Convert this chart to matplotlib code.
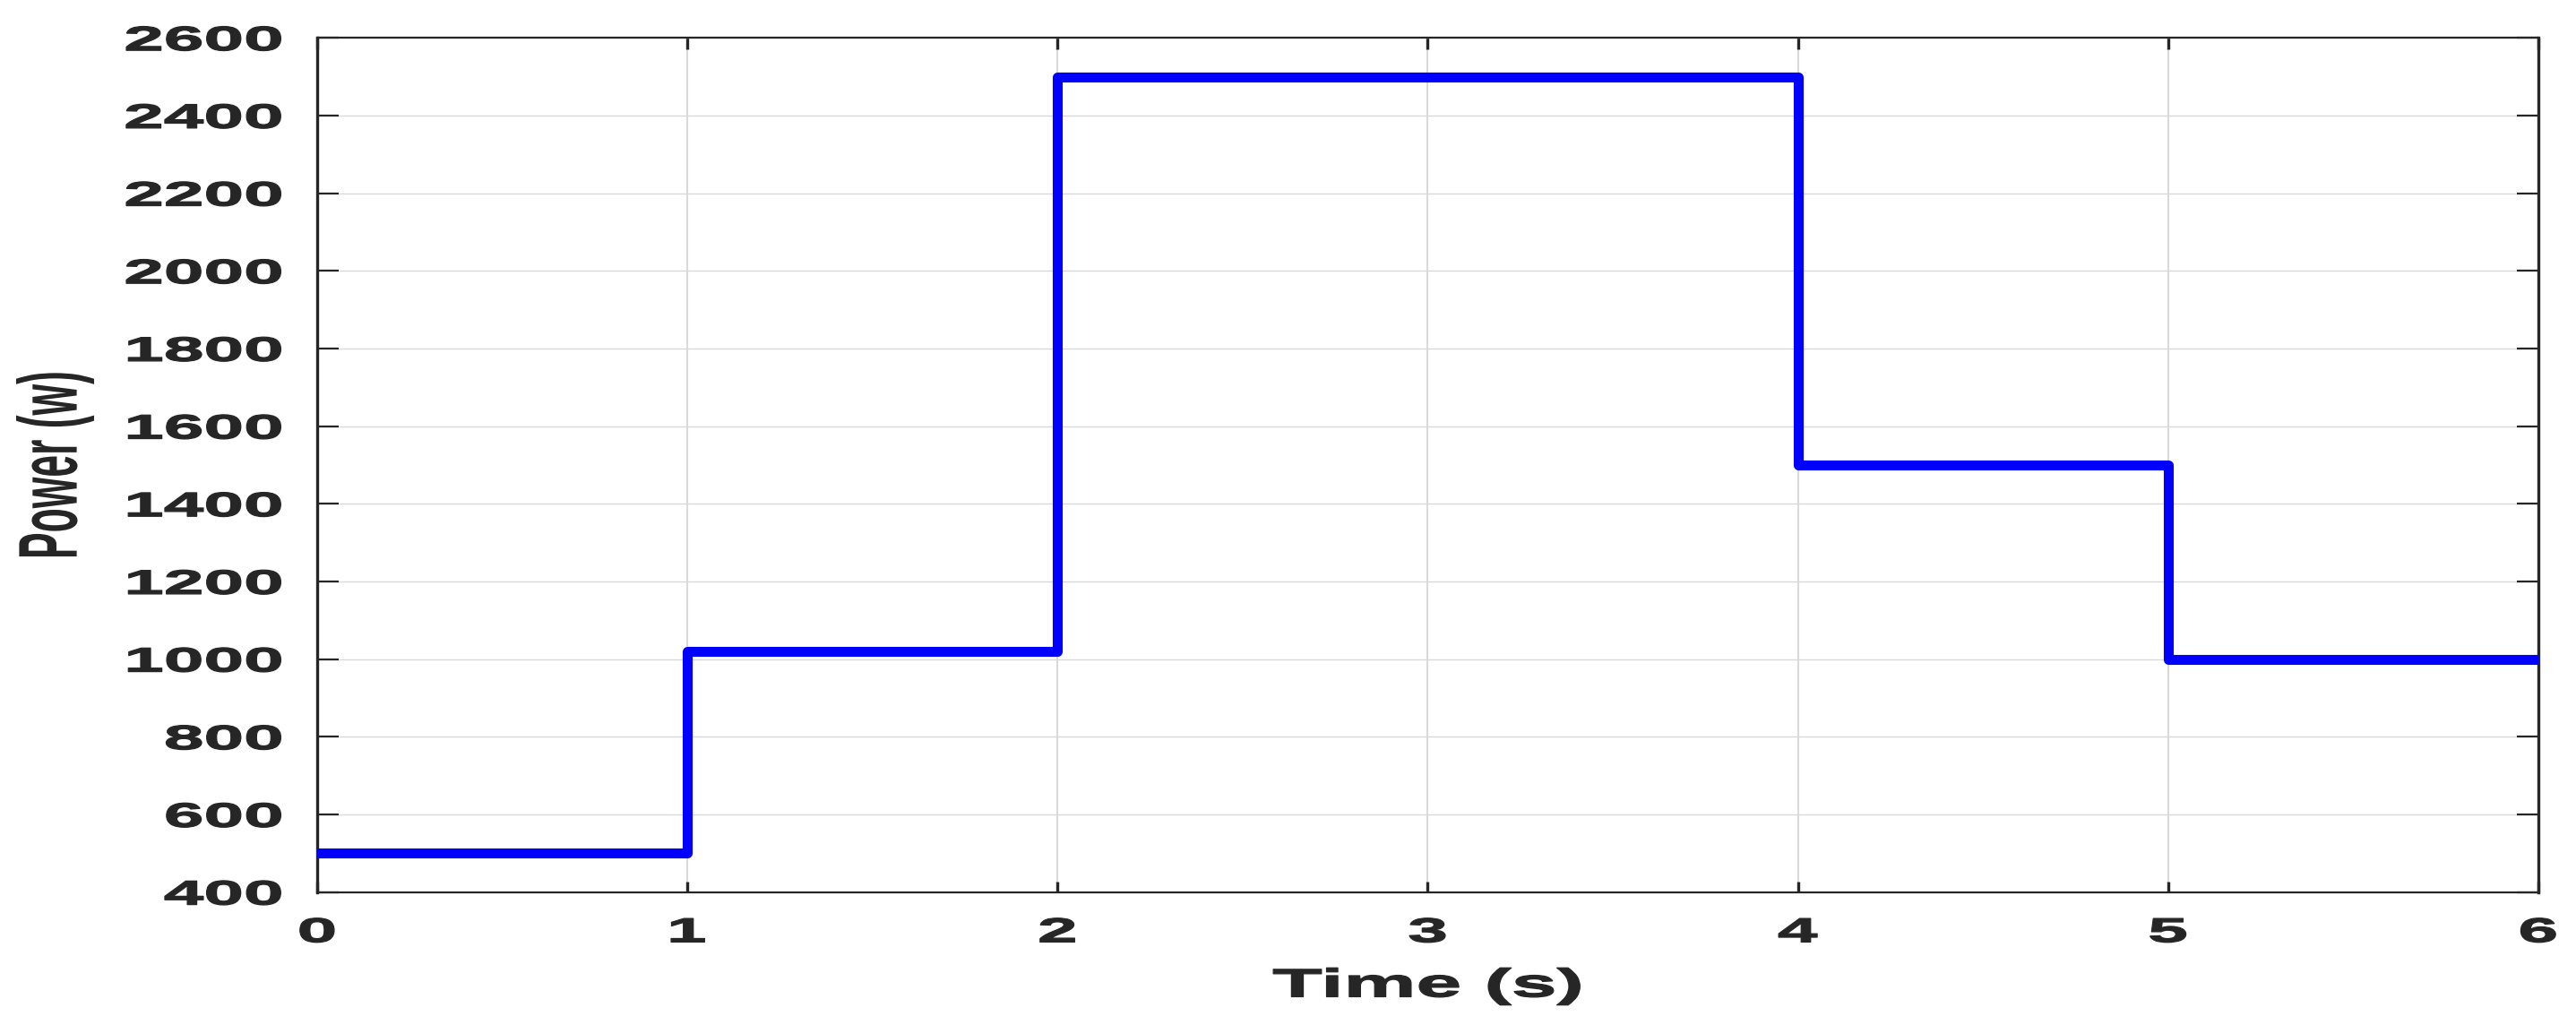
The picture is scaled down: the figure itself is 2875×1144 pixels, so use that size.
import numpy as np
import matplotlib
matplotlib.use("Agg")
import matplotlib.pyplot as plt
from matplotlib.patheffects import AbstractPathEffect
from matplotlib.transforms import Affine2D

# ----------------------------------------------
# Data: load power profile (step changes)
# ----------------------------------------------
time_s = [0, 1, 2, 4, 5, 6]
power_w = [500, 1020, 2500, 1500, 1000, 1000]

x_ticks = [0, 1, 2, 3, 4, 5, 6]
y_ticks = [400, 600, 800, 1000, 1200, 1400, 1600, 1800, 2000, 2200, 2400, 2600]

TEXT = '#262626'
GRID = '#d9d9d9'


class Stretch(AbstractPathEffect):
    """Scale the glyphs of a text (the original figure is squashed 2:1),
    with an optional outline to make the letters a bit heavier"""

    def __init__(self, sx=1.0, sy=1.0, ha='center', stroke=0.0):
        super().__init__()
        self.sx, self.sy, self.ha, self.stroke = sx, sy, ha, stroke

    def draw_path(self, renderer, gc, tpath, affine, rgbFace=None):
        ext = tpath.get_extents()
        cx = {'left': ext.x0, 'right': ext.x1, 'center': (ext.x0 + ext.x1) / 2}[self.ha]
        tr = (Affine2D().translate(-cx, -ext.y0).scale(self.sx, self.sy)
              .translate(cx, ext.y0) + affine)
        gc0 = renderer.new_gc()
        gc0.copy_properties(gc)
        if self.stroke > 0:
            gc0.set_linewidth(self.stroke)
            gc0.set_foreground(rgbFace)
            gc0.set_joinstyle('round')
        renderer.draw_path(gc0, tpath, tr, rgbFace)
        gc0.restore()


plt.rcParams['font.family'] = ['Liberation Sans', 'DejaVu Sans']
plt.rcParams['font.weight'] = 'bold'

W, H = 2875, 1144
fig = plt.figure(figsize=(W / 100, H / 100), dpi=100)
ax = fig.add_axes([353.9 / W, 1 - 995.6 / H, (2832.8 - 353.9) / W, (995.6 - 42.2) / H])

ax.step(time_s, power_w, where='post', color='#0000ff', linewidth=8.0, zorder=3)

ax.set_xlim(0, 6)
ax.set_ylim(400, 2600)
ax.set_xticks(x_ticks)
ax.set_yticks(y_ticks)

ax.xaxis.grid(True, color=GRID, linewidth=1.5)
ax.yaxis.grid(True, color=GRID, linewidth=1.0)
ax.set_axisbelow(True)

ax.tick_params(axis='both', direction='in', top=True, right=True, colors=TEXT)
ax.tick_params(axis='y', length=17, width=1.6, pad=28, labelsize=27.5)
ax.tick_params(axis='x', length=9, width=2.4, pad=20, labelsize=27.5)

for side in ['left', 'right']:
    ax.spines[side].set_linewidth(2.4)
for side in ['top', 'bottom']:
    ax.spines[side].set_linewidth(1.6)
for sp in ax.spines.values():
    sp.set_color(TEXT)

for lab in ax.get_xticklabels():
    lab.set_path_effects([Stretch(sx=2.1, ha='center', stroke=0.9)])
    lab.set_fontweight('bold')
for lab in ax.get_yticklabels():
    lab.set_path_effects([Stretch(sx=2.1, ha='right', stroke=0.9)])
    lab.set_fontweight('bold')

ax.set_xlabel('Time (s)', fontsize=32, fontweight='bold', color=TEXT,
              path_effects=[Stretch(sx=2.05, ha='center', stroke=0.9)])
ax.xaxis.set_label_coords(0.5, -0.089)

ax.set_ylabel('Power (w)', fontsize=32, fontweight='bold', color=TEXT,
              path_effects=[Stretch(sy=2.1, ha='center')])
ax.yaxis.set_label_coords(-0.1005, 0.5)

fig.savefig('out.png', dpi=100, facecolor='white')
print("Saved as 'out.png'")
